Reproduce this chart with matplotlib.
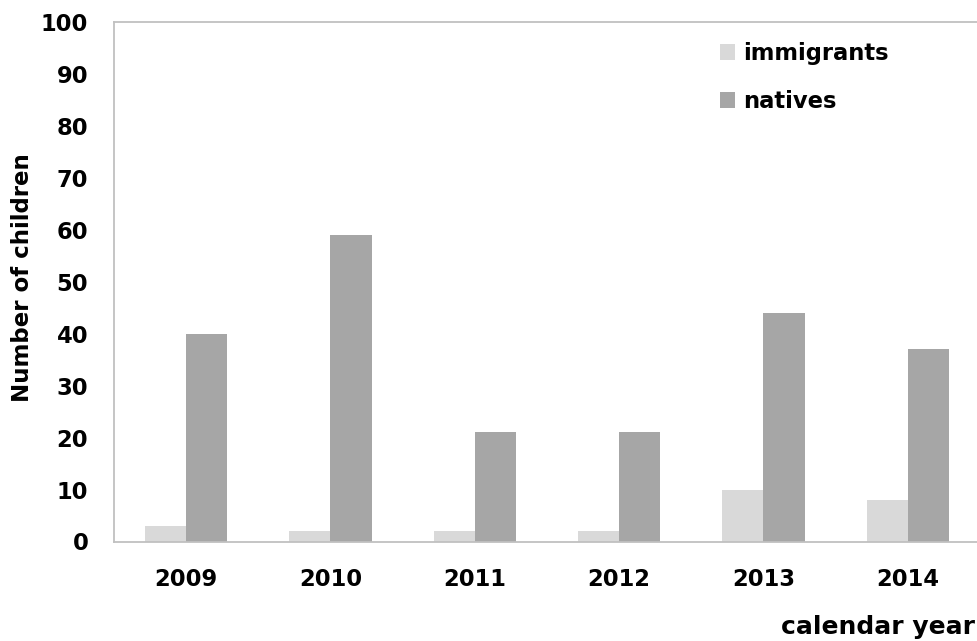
import matplotlib
matplotlib.use("Agg")
import matplotlib.pyplot as plt
import numpy as np

years = ["2009", "2010", "2011", "2012", "2013", "2014"]
immigrants = [3, 2, 2, 2, 10, 8]
natives = [40, 59, 21, 21, 44, 37]
yticks = [0, 10, 20, 30, 40, 50, 60, 70, 80, 90, 100]

plt.rcParams['font.family'] = ['DejaVu Sans']
plt.rcParams['font.weight'] = 'bold'

W, H = 978, 641
fig = plt.figure(figsize=(W / 100, H / 100), dpi=100)
ax = fig.add_axes([114 / W, 1 - 541.5 / H, (980 - 114) / W, (541.5 - 21.7) / H])

x = np.arange(len(years))
bw = 0.285
b1 = ax.bar(x - bw / 2, immigrants, bw, color='#d9d9d9', label='immigrants', zorder=2)
b2 = ax.bar(x + bw / 2, natives, bw, color='#a6a6a6', label='natives', zorder=2)

ax.set_xlim(-0.5, 5.5)
ax.set_ylim(0, 100)
ax.set_yticks(yticks)
ax.set_xticks(x)
ax.set_xticklabels(years)
fs = 16.3
ax.tick_params(axis='both', length=0, labelsize=fs)
ax.tick_params(axis='y', pad=18.5)
ax.tick_params(axis='x', pad=19)
for lab in ax.get_xticklabels() + ax.get_yticklabels():
    lab.set_fontweight('bold')

for side in ['left', 'top', 'bottom']:
    ax.spines[side].set_color('#c0c0c0')
    ax.spines[side].set_linewidth(1.3)
ax.spines['right'].set_visible(False)

fig.text(22.5 / W, 1 - 278 / H, 'Number of children', rotation=90,
         ha='center', va='center', fontsize=16.5, fontweight='bold')
fig.text(975 / W, 1 - 634 / H, 'calendar year', ha='right', va='baseline',
         fontsize=18, fontweight='bold')

ax.legend(handles=[b1, b2], loc='upper left', bbox_to_anchor=(720 / W, 1 - 42 / H),
          bbox_transform=fig.transFigure, frameon=False,
          prop={'weight': 'bold', 'size': fs},
          handlelength=0.66, handleheight=0.66, handletextpad=0.35,
          labelspacing=1.1, borderpad=0, borderaxespad=0)

fig.savefig('out.png', dpi=100)
